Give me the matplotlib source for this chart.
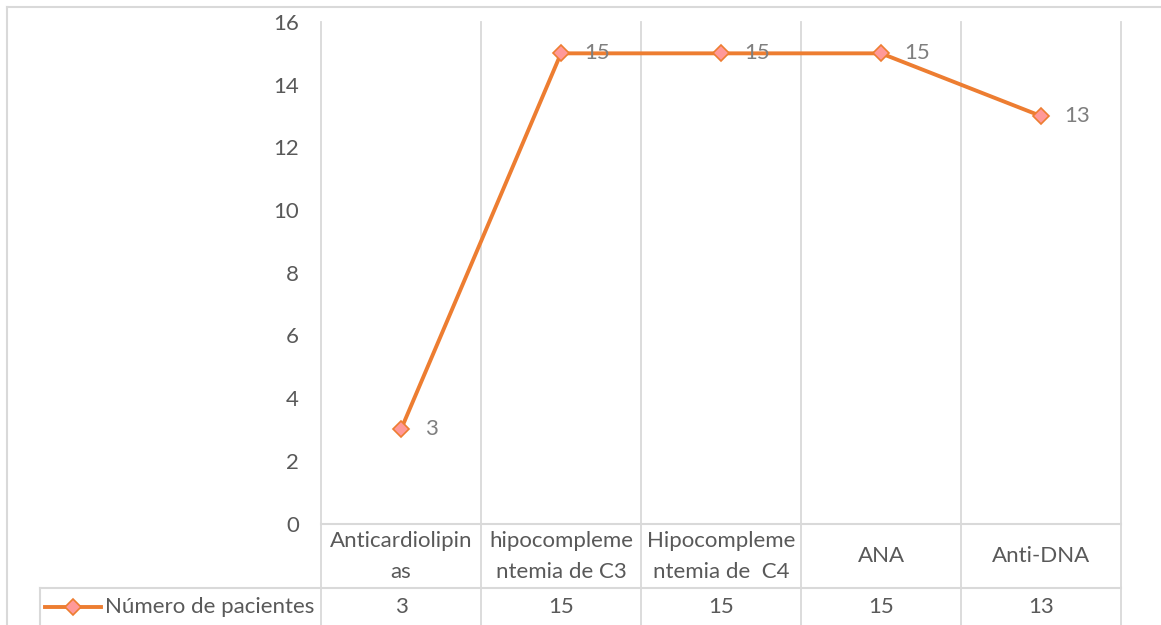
import matplotlib.pyplot as plt
from matplotlib.lines import Line2D

categorias = ["Anticardiolipin\nas", "hipocompleme\nntemia de C3",
              "Hipocompleme\nntemia de  C4", "ANA", "Anti-DNA"]
pacientes = [3, 15, 15, 15, 13]
serie = "Número de pacientes"
yticks = [0, 2, 4, 6, 8, 10, 12, 14, 16]

W, H = 1161, 625
AX_L, AX_R, AX_T, AX_B = 321, 1121, 22, 523.5
NARANJA = "#ED7D31"
ROSA = "#FF9999"
GRIS = "#D9D9D9"
TEXTO = "#595959"
FS = 16

plt.rcParams["font.family"] = ["Lato", "DejaVu Sans"]


def fx(px):
    return px / W


def fy(py):
    return 1 - py / H


def ay(py):
    # pixel y -> axes fraction
    return (AX_B - py) / (AX_B - AX_T)


fig = plt.figure(figsize=(W / 100, H / 100), dpi=100)
ax = fig.add_axes([fx(AX_L), fy(AX_B), (AX_R - AX_L) / W, (AX_B - AX_T) / H])
ax.set_xlim(-0.5, len(categorias) - 0.5)
ax.set_ylim(0, 16)
ax.set_yticks(yticks)
ax.tick_params(axis="y", length=0, pad=16, labelsize=FS, labelcolor=TEXTO)
ax.set_xticks([])
for s in ax.spines.values():
    s.set_visible(False)

# lineas verticales de la rejilla, continúan en la tabla
for i in range(len(categorias) + 1):
    ax.axvline(i - 0.5, ymin=ay(H + 5), ymax=1, color=GRIS, lw=1.3,
               clip_on=False, zorder=0)

x = list(range(len(categorias)))
ax.plot(x, pacientes, color=NARANJA, lw=2.8, marker="D", markersize=8.5,
        markerfacecolor=ROSA, markeredgecolor=NARANJA, markeredgewidth=1.2,
        zorder=3)
for xi, v in zip(x, pacientes):
    ax.annotate(str(v), (xi, v), xytext=(17, 0), textcoords="offset points",
                ha="left", va="center", fontsize=FS, color="#7F7F7F")

# tabla de datos
tr = ax.get_xaxis_transform()
fig.add_artist(Line2D([fx(AX_L), fx(AX_R)], [fy(524)] * 2, color=GRIS, lw=1.5))
fig.add_artist(Line2D([fx(40), fx(AX_R)], [fy(588)] * 2, color=GRIS, lw=1.5))
fig.add_artist(Line2D([fx(40), fx(40)], [fy(588), fy(H + 5)], color=GRIS, lw=1.5))
for i, cat in enumerate(categorias):
    partes = cat.split("\n")
    if len(partes) == 1:
        ax.text(i, ay(556), partes[0], transform=tr, ha="center", va="center",
                fontsize=FS, color=TEXTO)
    else:
        ax.text(i, ay(541), partes[0], transform=tr, ha="center", va="center",
                fontsize=FS, color=TEXTO)
        ax.text(i, ay(572), partes[1], transform=tr, ha="center", va="center",
                fontsize=FS, color=TEXTO)
    ax.text(i, ay(607), str(pacientes[i]), transform=tr, ha="center",
            va="center", fontsize=FS, color=TEXTO)

# clave de la leyenda en la tabla
fig.add_artist(Line2D([fx(45), fx(101)], [fy(607)] * 2, color=NARANJA, lw=2.8))
fig.add_artist(Line2D([fx(73)], [fy(607)], marker="D", markersize=8.5,
                      markerfacecolor=ROSA, markeredgecolor=NARANJA,
                      markeredgewidth=1.2))
fig.text(fx(105), fy(607), serie, ha="left", va="center", fontsize=FS,
         color=TEXTO)

# borde del gráfico
fig.add_artist(Line2D([fx(7), fx(7)], [fy(7), fy(H + 5)], color=GRIS, lw=1.5))
fig.add_artist(Line2D([fx(7), fx(W + 5)], [fy(7), fy(7)], color=GRIS, lw=1.5))

fig.savefig("out.png", dpi=100)
